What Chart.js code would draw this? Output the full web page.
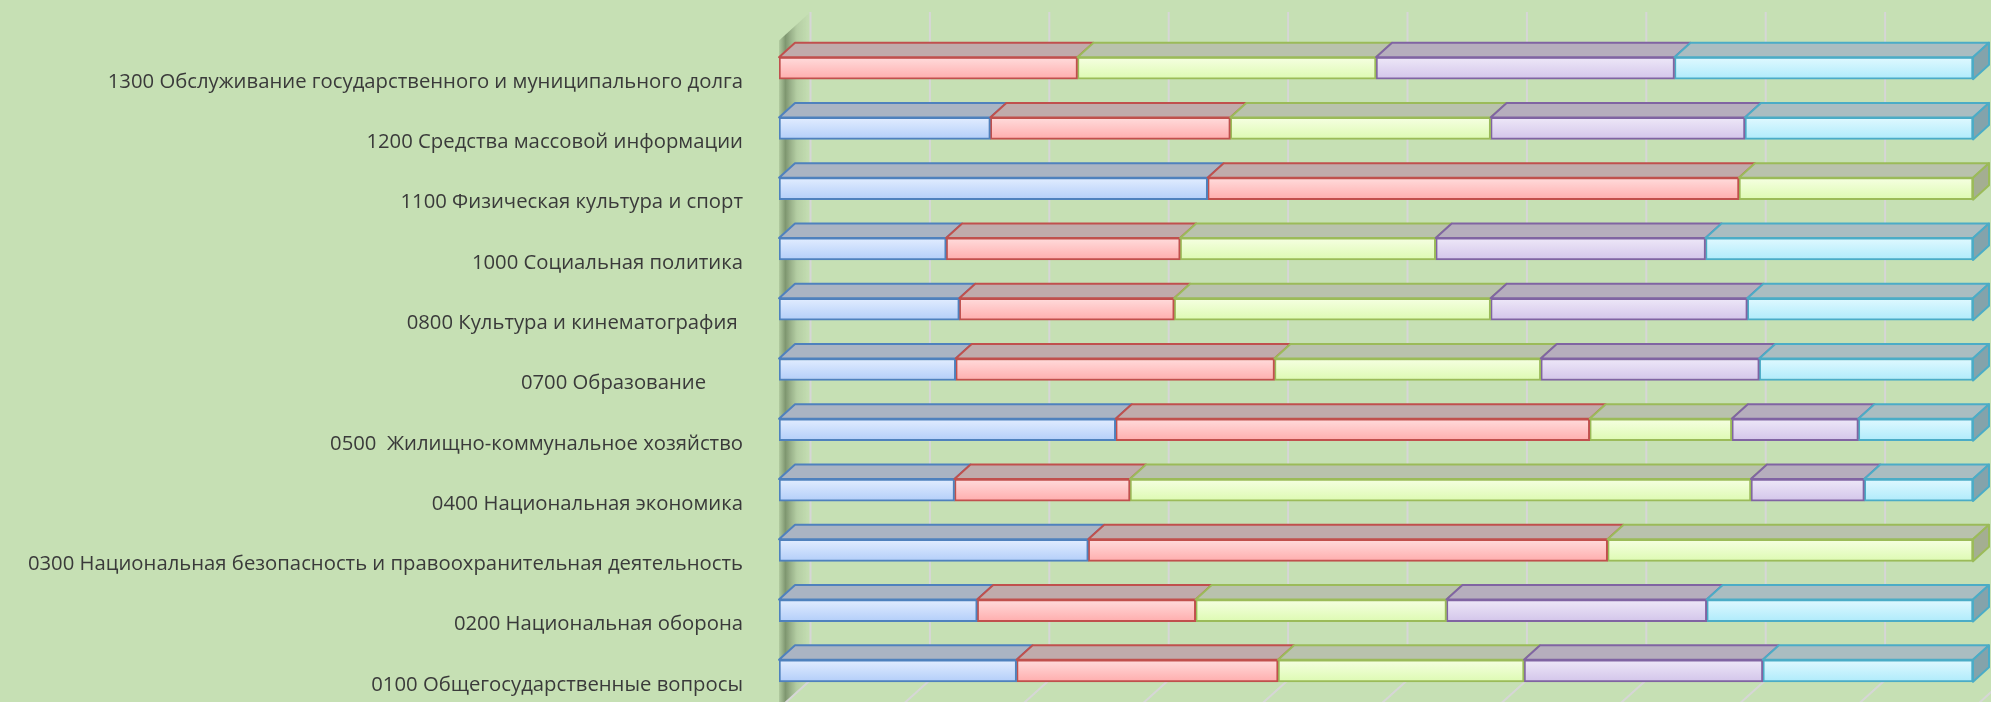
<!DOCTYPE html>
<html>
<head>
<meta charset="utf-8">
<script src="https://cdn.jsdelivr.net/npm/chart.js@4.4.0/dist/chart.umd.min.js"></script>
<style>
  html, body { margin: 0; padding: 0; background: #c6e0b4; overflow: hidden; }
  #wrap { width: 1991px; height: 702px; position: relative; }
</style>
</head>
<body>
<div id="wrap"><canvas id="budgetChart"></canvas></div>
<script>
let categories = [
    "0100 Общегосударственные вопросы",
    "0200 Национальная оборона",
    "0300 Национальная безопасность и правоохранительная деятельность",
    "0400 Национальная экономика",
    "0500  Жилищно-коммунальное хозяйство",
    "0700 Образование       ",
    "0800 Культура и кинематография ",
    "1000 Социальная политика",
    "1100 Физическая культура и спорт",
    "1200 Средства массовой информации",
    "1300 Обслуживание государственного и муниципального долга"
];

// shares of each row, %
let blueData   = [19.9, 16.6, 25.9, 14.7, 28.2, 14.8, 15.1, 14.0, 35.9, 17.7, 0];
let redData    = [21.9, 18.3, 43.5, 14.7, 39.7, 26.7, 18.0, 19.6, 44.5, 20.1, 25];
let greenData  = [20.6, 21.0, 30.6, 52.0, 11.9, 22.3, 26.5, 21.4, 19.6, 21.8, 25];
let purpleData = [20.0, 21.8, 0, 9.5, 10.6, 18.3, 21.5, 22.6, 0, 21.3, 25];
let cyanData   = [17.6, 22.3, 0, 9.1, 9.6, 17.9, 18.9, 22.4, 0, 19.1, 25];

let gridTicks = [0, 10, 20, 30, 40, 50, 60, 70, 80, 90, 100];

const BAR_H = 22;
const DX = 16, DY = 14.5;          // depth of a bar
const WALL_DX = 31.5, WALL_DY = 28.5;

const series = [
    { data: blueData,   border: '#4f81bd', top: '#e2edff', bottom: '#b3cef9', lid: '#aab4c3', side: '#8d9db3' },
    { data: redData,    border: '#c0504d', top: '#ffdcdc', bottom: '#ffadad', lid: '#c0abab', side: '#b08f8f' },
    { data: greenData,  border: '#9bbb59', top: '#f6ffe2', bottom: '#ddfab2', lid: '#b9c2ad', side: '#a4ae92' },
    { data: purpleData, border: '#8064a2', top: '#eee8f8', bottom: '#d3c5ea', lid: '#b6aebd', side: '#9c92aa' },
    { data: cyanData,   border: '#4bacc6', top: '#e0f9ff', bottom: '#afebfb', lid: '#aabdc1', side: '#84a3ab' }
];

function frontFill(i) {
    return (c) => {
        const chart = c.chart;
        const y = chart.scales.y;
        if (!y || !chart.chartArea || c.dataIndex === undefined) return series[i].bottom;
        const cy = y.getPixelForValue(c.dataIndex);
        const g = chart.ctx.createLinearGradient(0, cy - BAR_H / 2, 0, cy + BAR_H / 2);
        g.addColorStop(0, series[i].top);
        g.addColorStop(1, series[i].bottom);
        return g;
    };
}

const box3d = {
    id: 'box3d',
    beforeDatasetsDraw(chart) {
        const { ctx, chartArea, scales: { x } } = chart;
        const wallTop = chartArea.top - 26;
        const wallBottom = chartArea.bottom - 21;
        const x0 = x.getPixelForValue(0);
        ctx.save();

        // left wall
        let g = ctx.createLinearGradient(x0 - 2, 0, x0 + WALL_DX, 0);
        g.addColorStop(0, 'rgba(60,80,50,0.05)');
        g.addColorStop(0.25, 'rgba(40,60,30,0.45)');
        g.addColorStop(0.6, 'rgba(60,80,50,0.12)');
        g.addColorStop(1, 'rgba(60,80,50,0)');
        ctx.fillStyle = g;
        ctx.beginPath();
        ctx.moveTo(x0, wallTop + WALL_DY);
        ctx.lineTo(x0 + WALL_DX, wallTop);
        ctx.lineTo(x0 + WALL_DX, wallBottom);
        ctx.lineTo(x0, wallBottom + WALL_DY);
        ctx.closePath();
        ctx.fill();

        // back wall and floor grid
        ctx.strokeStyle = '#d6d6d6';
        ctx.lineWidth = 2;
        gridTicks.forEach(v => {
            const gx = x.getPixelForValue(v) + WALL_DX;
            ctx.beginPath();
            ctx.moveTo(gx, wallTop);
            ctx.lineTo(gx, wallBottom);
            ctx.lineTo(gx - WALL_DX, wallBottom + WALL_DY);
            ctx.stroke();
        });
        ctx.restore();
    },
    afterDatasetsDraw(chart) {
        const ctx = chart.ctx;
        let rowEnd = [];
        ctx.save();
        ctx.lineWidth = 2;
        ctx.lineJoin = 'round';
        series.forEach((s, i) => {
            chart.getDatasetMeta(i).data.forEach((bar, j) => {
                if (Math.abs(bar.x - bar.base) < 1) return;
                const t = bar.y - bar.height / 2;
                const l = Math.min(bar.base, bar.x), r = Math.max(bar.base, bar.x);
                ctx.beginPath();
                ctx.moveTo(l, t);
                ctx.lineTo(r, t);
                ctx.lineTo(r + DX, t - DY);
                ctx.lineTo(l + DX, t - DY);
                ctx.closePath();
                ctx.fillStyle = s.lid;
                ctx.fill();
                ctx.strokeStyle = s.border;
                ctx.stroke();
                rowEnd[j] = { i, r, t, h: bar.height };
            });
        });
        rowEnd.forEach(e => {
            if (!e) return;
            const s = series[e.i];
            ctx.beginPath();
            ctx.moveTo(e.r, e.t);
            ctx.lineTo(e.r + DX, e.t - DY);
            ctx.lineTo(e.r + DX, e.t + e.h - DY);
            ctx.lineTo(e.r, e.t + e.h);
            ctx.closePath();
            ctx.fillStyle = s.side;
            ctx.fill();
            ctx.strokeStyle = s.border;
            ctx.stroke();
        });
        ctx.restore();
    }
};

const budgetChart = new Chart(document.getElementById('budgetChart'), {
    type: 'bar',
    data: {
        labels: categories,
        datasets: series.map((s, i) => ({
            data: s.data,
            backgroundColor: frontFill(i),
            borderColor: s.border,
            borderWidth: 2,
            borderSkipped: false,
            barThickness: BAR_H
        }))
    },
    options: {
        indexAxis: 'y',
        responsive: true,
        maintainAspectRatio: false,
        animation: false,
        layout: { padding: { left: 0, right: 18, top: 38, bottom: 1 } },
        plugins: { legend: { display: false }, tooltip: { enabled: false } },
        scales: {
            x: { stacked: true, min: 0, max: 100, display: false },
            y: {
                stacked: true,
                reverse: true,
                grid: { display: false, drawTicks: false },
                border: { display: false },
                ticks: {
                    autoSkip: false,
                    color: '#3a3a3a',
                    font: { family: '"Open Sans"', size: 20.3 },
                    padding: 36,
                    labelOffset: 14
                },
                afterFit(scale) {
                    scale.width = 779;
                    scale.paddingTop = 0;
                    scale.paddingBottom = 0;
                }
            }
        }
    },
    plugins: [box3d]
});
</script>
</body>
</html>
